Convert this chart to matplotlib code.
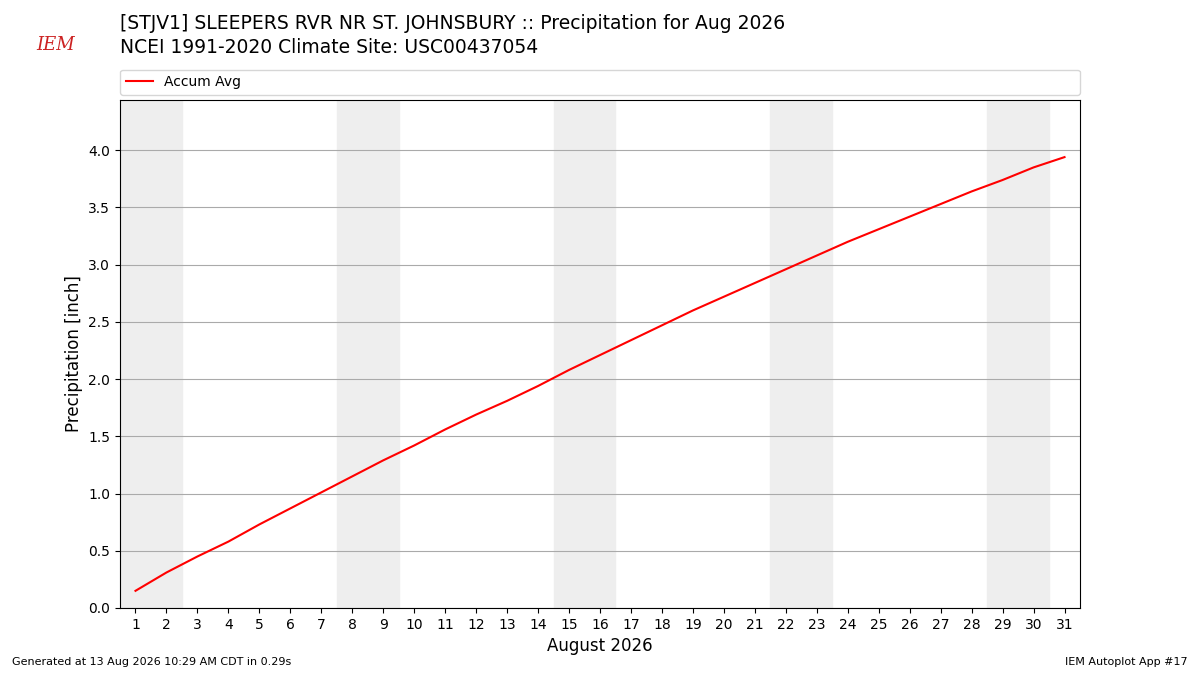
import matplotlib
matplotlib.use("Agg")
import matplotlib.pyplot as plt

days = list(range(1, 32))
accum_avg = [0.15, 0.31, 0.45, 0.58, 0.73, 0.87, 1.01, 1.15, 1.29, 1.42, 1.56, 1.69, 1.81,
             1.94, 2.08, 2.21, 2.34, 2.47, 2.60, 2.72, 2.84, 2.96, 3.08, 3.20, 3.31, 3.42,
             3.53, 3.64, 3.74, 3.85, 3.94]
weekend_starts = [1, 8, 15, 22, 29]

fig = plt.figure(figsize=(12, 6.75), dpi=100)
ax = fig.add_axes([0.1, 0.0993, 0.8, 0.7527])
for s in weekend_starts:
    ax.axvspan(s - 0.5, s + 1.5, color="#eeeeee", zorder=0)
ax.plot(days, accum_avg, color="red", label="Accum Avg", zorder=3)
ax.set_xlim(0.5, 31.5)
ax.set_ylim(0, 4.44)
ax.set_xticks(days)
ax.set_yticks([0, 0.5, 1, 1.5, 2, 2.5, 3, 3.5, 4])
ax.yaxis.grid(True, color="#aaaaaa", zorder=1)
ax.set_axisbelow(True)
ax.set_ylabel("Precipitation [inch]", fontsize=12)
ax.set_xlabel("August 2026", fontsize=12)
ax.legend(loc="lower left", bbox_to_anchor=(0, 1.01, 1, 0.05), mode="expand",
          ncol=1, fontsize=10, borderaxespad=0, frameon=True)

fig.text(0.1, 0.965, "[STJV1] SLEEPERS RVR NR ST. JOHNSBURY :: Precipitation for Aug 2026",
         fontsize=13.5, va="center")
fig.text(0.1, 0.93, "NCEI 1991-2020 Climate Site: USC00437054", fontsize=13.5, va="center")
fig.text(0.03, 0.933, "IEM", color="#cc2222", fontsize=13, style="italic",
         family="DejaVu Serif", va="center")
fig.text(0.01, 0.015, "Generated at 13 Aug 2026 10:29 AM CDT in 0.29s", fontsize=8)
fig.text(0.99, 0.015, "IEM Autoplot App #17", fontsize=8, ha="right")
fig.savefig("out.png", dpi=100)
